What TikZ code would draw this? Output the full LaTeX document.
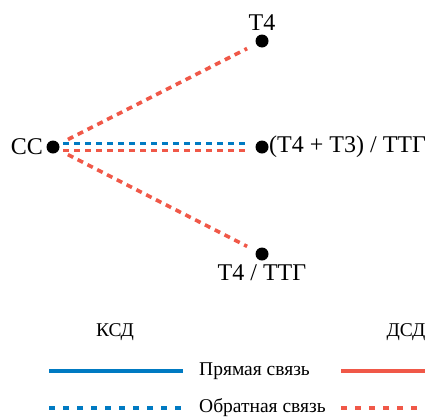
\documentclass[tikz,border=0pt]{standalone}
\usepackage{fontspec}
\setmainfont{Liberation Serif}
\usepackage{xcolor}
\definecolor{ksdblue}{RGB}{0,122,194}
\definecolor{dsdred}{RGB}{240,88,72}
\usetikzlibrary{positioning}
\tikzset{
	hormone/.style={circle, fill=black, inner sep=0pt, minimum size=13pt}
}
\tikzset{
	feedback/.style={line width=3.6pt, dash pattern=on 6pt off 5pt, shorten >=10pt, shorten <=10pt}
}
\tikzset{
	legendline/.style={line width=3.6pt}
}

\begin{document}
\begin{tikzpicture}[x=1pt, y=-1pt]
		\useasboundingbox (0, 0) rectangle (425, 418);

		% hormones
		\node[hormone] (cc) at (53, 147) {};
		\node[hormone] (t4) at (262, 41) {};
		\node[hormone] (ratio) at (262, 147) {};
		\node[hormone] (t4ttg) at (262, 254) {};

		\node[left=0pt of cc, font=\fontsize{24}{24}\selectfont] (cclabel) {СС};
		\node[above=0pt of t4, font=\fontsize{24}{24}\selectfont] (t4label) {Т4};
		\node[right=-3pt of ratio, font=\fontsize{24}{24}\selectfont] (ratiolabel) {(Т4 + Т3) / ТТГ};
		\node[below=0pt of t4ttg, font=\fontsize{24}{24}\selectfont] (t4ttglabel) {Т4 / ТТГ};

		% feedback
		\draw[feedback, dsdred] (cc) -- (t4);
		\draw[feedback, ksdblue, shorten >=14pt] ([yshift=3.5pt]cc.center) -- ([yshift=3.5pt]ratio.center);
		\draw[feedback, dsdred, shorten >=14pt] ([yshift=-3.5pt]cc.center) -- ([yshift=-3.5pt]ratio.center);
		\draw[feedback, dsdred] (cc) -- (t4ttg);

		% legend
		\node[font=\fontsize{19.5}{19.5}\selectfont] (ksd) at (115, 332) {КСД};
		\node[font=\fontsize{19.5}{19.5}\selectfont] (dsd) at (406, 332) {ДСД};
		\node[font=\fontsize{19.5}{19.5}\selectfont, anchor=west, inner sep=0pt] (direct) at (199, 371) {Прямая связь};
		\node[font=\fontsize{19.5}{19.5}\selectfont, anchor=west, inner sep=0pt] (inverse) at (199, 408) {Обратная связь};

		\coordinate (ksdA) at (49, 371);
		\coordinate (ksdB) at (183, 371);
		\coordinate (ksdC) at (49, 408);
		\coordinate (ksdD) at (183, 408);
		\coordinate (dsdA) at (341, 371);
		\coordinate (dsdB) at (425, 371);
		\coordinate (dsdC) at (341, 408);
		\coordinate (dsdD) at (425, 408);

		\draw[legendline, ksdblue] (ksdA) -- (ksdB);
		\draw[legendline, ksdblue, dash pattern=on 6pt off 8pt] (ksdC) -- (ksdD);
		\draw[legendline, dsdred] (dsdA) -- (dsdB);
		\draw[legendline, dsdred, dash pattern=on 6pt off 8pt] (dsdC) -- (dsdD);

	\end{tikzpicture}
\end{document}
